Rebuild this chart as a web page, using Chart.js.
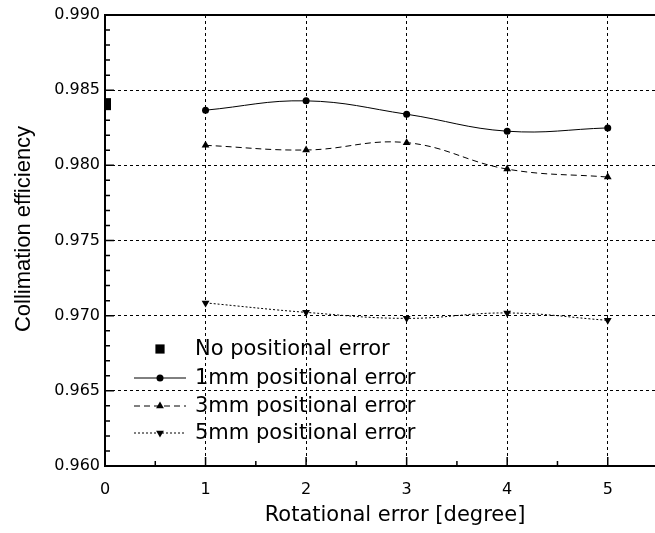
<!DOCTYPE html>
<html>
<head>
<meta charset="utf-8">
<script src="https://cdn.jsdelivr.net/npm/chart.js@4/dist/chart.umd.min.js"></script>
<style>
  html, body { margin: 0; padding: 0; background: #fff; }
  #wrap { width: 655px; height: 533px; }
</style>
</head>
<body>
<div id="wrap"><canvas id="myChart" width="655" height="533"></canvas></div>
<script>
// data
var rotation = [1, 2, 3, 4, 5];
var noError = [0.98407];
var err1mm = [0.98367, 0.98429, 0.98340, 0.98227, 0.98249];
var err3mm = [0.98133, 0.98102, 0.98151, 0.97975, 0.97922];
var err5mm = [0.97085, 0.97022, 0.96982, 0.97018, 0.96969];

var xTicks = [0, 1, 2, 3, 4, 5];
var yTicks = [0.960, 0.965, 0.970, 0.975, 0.980, 0.985, 0.990];

var xTitle = 'Rotational error [degree]';
var yTitle = 'Collimation efficiency';

var labelFont = 'DejaVu Sans, Verdana, sans-serif';
var titleFontY = 'Liberation Sans, Arial, sans-serif';

toPoints = (xs, ys) => ys.map((y, i) => ({ x: xs[i], y: y }));

// inward major/minor ticks, top border, axis titles and the legend inside the plot
var framePlugin = {
  id: 'frame',
  afterDraw: function (chart) {
    var ctx = chart.ctx;
    var a = chart.chartArea;
    var xs = chart.scales.x;
    var ys = chart.scales.y;
    ctx.save();
    ctx.strokeStyle = '#000';
    ctx.lineWidth = 2;
    ctx.beginPath();
    ctx.moveTo(a.left - 1, a.top);
    ctx.lineTo(a.right, a.top);
    ctx.stroke();

    ctx.lineWidth = 1.5;
    ctx.beginPath();
    for (var v = 0; v <= 30; v++) {
      var py = ys.getPixelForValue(0.960 + v * 0.001);
      var len = v % 5 === 0 ? 9 : 5;
      ctx.moveTo(a.left, py);
      ctx.lineTo(a.left + len, py);
    }
    for (var h = 0; h <= 10; h++) {
      var px = xs.getPixelForValue(h * 0.5);
      var lx = h % 2 === 0 ? 9 : 5;
      ctx.moveTo(px, a.bottom);
      ctx.lineTo(px, a.bottom - lx);
    }
    ctx.stroke();

    // axis titles
    ctx.fillStyle = '#000';
    ctx.textAlign = 'center';
    ctx.textBaseline = 'middle';
    ctx.font = '21px ' + labelFont;
    ctx.fillText(xTitle, 395, 516);
    ctx.save();
    ctx.translate(24, 229);
    ctx.rotate(-Math.PI / 2);
    ctx.font = '22px ' + titleFontY;
    ctx.fillText(yTitle, 0, 0);
    ctx.restore();

    // legend
    var rows = [349, 378, 406, 433];
    var sets = chart.data.datasets;
    ctx.font = '21px ' + labelFont;
    ctx.textAlign = 'left';
    sets.forEach(function (ds, i) {
      var y = rows[i];
      if (ds.showLine !== false) {
        ctx.lineWidth = 1;
        ctx.setLineDash(ds.borderDash || []);
        ctx.beginPath();
        ctx.moveTo(134, y);
        ctx.lineTo(186, y);
        ctx.stroke();
        ctx.setLineDash([]);
      }
      Chart.helpers.drawPoint(ctx, {
        pointStyle: ds.pointStyle,
        rotation: ds.pointRotation || 0,
        radius: i === 0 ? 6.5 : ds.pointRadius,
        borderWidth: 0
      }, 160, y);
      ctx.fillStyle = '#000';
      ctx.fillText(ds.label, 195, y + 1);
    });
    ctx.restore();
  }
};

var config = {
  type: 'scatter',
  data: {
    datasets: [
      {
        label: 'No positional error',
        data: toPoints([0], noError),
        showLine: false,
        pointStyle: 'rect',
        pointRadius: 8.5,
        backgroundColor: '#000',
        borderColor: '#000',
        borderWidth: 0,
        clip: 0
      },
      {
        label: '1mm positional error',
        data: toPoints(rotation, err1mm),
        showLine: true,
        tension: 0.4,
        borderColor: '#000',
        backgroundColor: '#000',
        borderWidth: 1,
        pointStyle: 'circle',
        pointRadius: 3.5,
        pointBorderWidth: 0
      },
      {
        label: '3mm positional error',
        data: toPoints(rotation, err3mm),
        showLine: true,
        tension: 0.4,
        borderColor: '#000',
        backgroundColor: '#000',
        borderWidth: 1,
        borderDash: [6, 4],
        pointStyle: 'triangle',
        pointRadius: 4.5,
        pointBorderWidth: 0
      },
      {
        label: '5mm positional error',
        data: toPoints(rotation, err5mm),
        showLine: true,
        tension: 0.4,
        borderColor: '#000',
        backgroundColor: '#000',
        borderWidth: 1,
        borderDash: [2, 2],
        pointStyle: 'triangle',
        pointRotation: 180,
        rotation: 180,
        pointRadius: 4.5,
        pointBorderWidth: 0
      }
    ]
  },
  options: {
    responsive: false,
    animation: false,
    events: [],
    layout: { autoPadding: false, padding: { top: 15, right: 0, left: 0, bottom: 0 } },
    plugins: {
      legend: { display: false },
      tooltip: { enabled: false }
    },
    scales: {
      x: {
        type: 'linear',
        min: 0,
        max: 5.47,
        afterBuildTicks: function (axis) {
          axis.ticks = xTicks.map((v) => ({ value: v }));
        },
        afterFit: function (axis) {
          axis.height = 67;
          axis.paddingLeft = 0;
          axis.paddingRight = 0;
        },
        ticks: {
          color: '#000',
          font: { family: labelFont, size: 16 },
          padding: 14,
          maxRotation: 0
        },
        grid: {
          color: (c) => (c.tick && c.tick.value === 0 ? 'rgba(0,0,0,0)' : '#000'),
          lineWidth: 1,
          drawTicks: false
        },
        border: { display: true, color: '#000', width: 2, dash: [3, 3] }
      },
      y: {
        type: 'linear',
        min: 0.960,
        max: 0.990,
        afterBuildTicks: function (axis) {
          axis.ticks = yTicks.map((v) => ({ value: v }));
        },
        afterFit: function (axis) {
          axis.width = 105;
          axis.paddingTop = 0;
          axis.paddingBottom = 0;
        },
        ticks: {
          color: '#000',
          font: { family: labelFont, size: 16 },
          padding: 5,
          callback: (v) => v.toFixed(3)
        },
        grid: {
          color: '#000',
          lineWidth: 1,
          drawTicks: false
        },
        border: { display: true, color: '#000', width: 2, dash: [3, 3] }
      }
    }
  },
  plugins: [framePlugin]
};

var ctx = document.getElementById('myChart');
var lineGraph = new Chart(ctx, config);
</script>
</body>
</html>
